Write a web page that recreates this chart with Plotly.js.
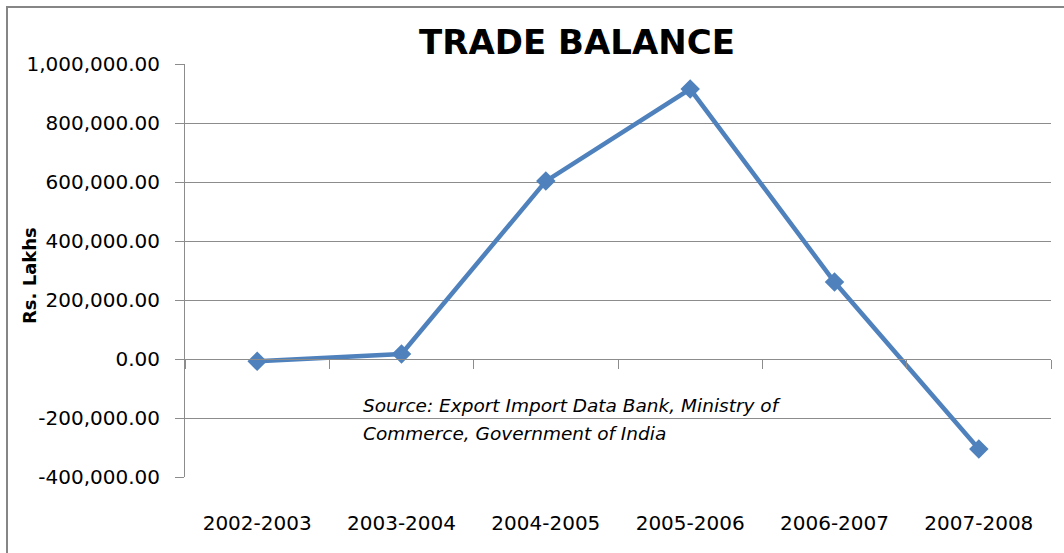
<!DOCTYPE html>
<html>
<head>
<meta charset="utf-8">
<script src="https://cdn.plot.ly/plotly-3.0.1.min.js"></script>
<style>html,body{margin:0;padding:0;background:#fff;}#chart{width:1064px;height:553px;}</style>
</head>
<body>
<div id="chart"></div>
<script>
const years = ["2002-2003","2003-2004","2004-2005","2005-2006","2006-2007","2007-2008"];
const tradeBalance = [-8000, 17000, 603000, 915000, 261000, -305000];
const yTickVals = [-400000, -200000, 0, 200000, 400000, 600000, 800000, 1000000];
const yTickText = ["-400,000.00","-200,000.00","0.00","200,000.00","400,000.00","600,000.00","800,000.00","1,000,000.00"];
const yRange = [-400000, 1000000];
const sourceLines = ["Source: Export Import Data Bank, Ministry of", "Commerce, Government of India"];

const gridColor = "#8c8c8c";
const font = "DejaVu Sans, Liberation Sans, sans-serif";

const traces = [
  {
    x: years, y: tradeBalance, type: "scatter", mode: "lines+markers",
    line: {color: "#4F81BD", width: 4.5},
    marker: {symbol: "diamond", size: 15, color: "#4F81BD"},
    xaxis: "x", yaxis: "y", showlegend: false, hoverinfo: "x+y"
  },
  {
    x: years, y: tradeBalance, type: "scatter", mode: "markers",
    marker: {opacity: 0}, xaxis: "x2", yaxis: "y", showlegend: false, hoverinfo: "skip"
  }
];

const zeroPos = (0 - yRange[0]) / (yRange[1] - yRange[0]);
const plotW = 866, plotH = 413, plotL = 185, plotB = 477;
const px = v => (v - plotL) / plotW;
const py = v => (plotB - v) / plotH;

const layout = {
  width: 1064, height: 553,
  margin: {l: 185, r: 13, t: 64, b: 76},
  paper_bgcolor: "#fff", plot_bgcolor: "#fff",
  showlegend: false,
  title: {
    text: "<b>TRADE BALANCE</b>",
    font: {family: font, size: 34, color: "#000"},
    x: px(577), xref: "paper", xanchor: "center",
    y: 1 - 42 / 553, yref: "container", yanchor: "middle"
  },
  xaxis: {
    type: "category", categoryorder: "array", categoryarray: years,
    range: [-0.5, 5.5],
    showline: false, showgrid: false, zeroline: false, ticks: "",
    tickfont: {family: font, size: 20, color: "#000"},
    ticklabelstandoff: 32, fixedrange: true
  },
  xaxis2: {
    type: "category", categoryorder: "array", categoryarray: years,
    range: [-0.5, 5.5], overlaying: "x", anchor: "free", position: zeroPos,
    showline: true, linecolor: gridColor, linewidth: 1,
    ticks: "outside", tickson: "boundaries", ticklen: 9, tickcolor: gridColor,
    showticklabels: false, showgrid: false, zeroline: false, fixedrange: true
  },
  yaxis: {
    range: yRange, tickvals: yTickVals, ticktext: yTickText,
    showgrid: true, gridcolor: gridColor, gridwidth: 1,
    zeroline: false,
    showline: true, linecolor: gridColor, linewidth: 1,
    ticks: "outside", ticklen: 9, tickcolor: gridColor,
    tickfont: {family: font, size: 20, color: "#000"},
    ticklabelstandoff: 11,
    fixedrange: true
  },
  annotations: [
    {
      text: "<b>Rs. Lakhs</b>", textangle: -90,
      xref: "paper", yref: "paper", x: px(29), y: py(276),
      xanchor: "center", yanchor: "middle", showarrow: false,
      font: {family: font, size: 18, color: "#000"}
    },
    {
      text: "<i>" + sourceLines[0] + "</i>",
      xref: "paper", yref: "paper", x: px(361), y: py(405),
      xanchor: "left", yanchor: "middle", align: "left", showarrow: false,
      font: {family: font, size: 18.5, color: "#000"}
    },
    {
      text: "<i>" + sourceLines[1] + "</i>",
      xref: "paper", yref: "paper", x: px(361), y: py(433),
      xanchor: "left", yanchor: "middle", align: "left", showarrow: false,
      font: {family: font, size: 18.5, color: "#000"}
    }
  ],
  shapes: [
    {type: "rect", xref: "paper", yref: "paper",
     x0: px(7), x1: px(1080),
     y0: py(570), y1: py(7),
     line: {color: "#868686", width: 2}, fillcolor: "rgba(0,0,0,0)", layer: "below"}
  ]
};

Plotly.newPlot("chart", traces, layout, {displayModeBar: false, staticPlot: true});
</script>
</body>
</html>
